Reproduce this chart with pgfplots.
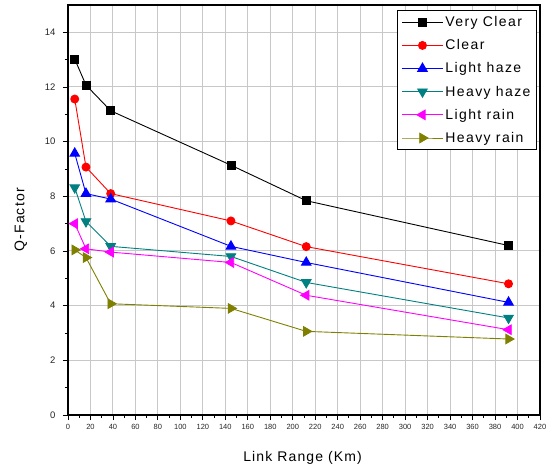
\documentclass[border=0pt]{standalone}
\usepackage{fontspec}
\setmainfont{Liberation Sans}
\usepackage{pgfplots}
\pgfplotsset{compat=1.18}
\definecolor{tealc}{RGB}{0,128,128}
\definecolor{olivec}{RGB}{128,128,0}
\definecolor{magc}{RGB}{255,0,255}
\definecolor{gridc}{RGB}{200,200,200}
\begin{document}
\begin{tikzpicture}
\begin{axis}[
  scale only axis,
  width=472pt, height=410pt,
  xmin=0, xmax=420, ymin=0, ymax=15,
  xtick={0,20,...,420},
  ytick={0,2,...,14},
  minor x tick num=1,
  minor y tick num=1,
  tick align=outside,
  tick pos=left,
  major tick length=5pt,
  minor tick length=3pt,
  grid=major,
  major grid style={gridc, line width=1pt},
  axis line style={line width=1.3pt},
  every tick/.style={black, line width=0.9pt},
  /pgf/number format/assume math mode=true,
  xticklabel style={font=\fontsize{7.5}{8}\selectfont, text=black!85, yshift=-1pt},
  yticklabel style={font=\fontsize{9.5}{10}\selectfont, text=black!85, xshift=-4pt},
  xlabel={\addfontfeature{LetterSpace=8}Link Range (Km)},
  ylabel={\addfontfeature{LetterSpace=8}Q-Factor},
  label style={font=\fontsize{14}{16}\selectfont},
  xlabel style={at={(axis description cs:0.497,-0.105)}, anchor=center},
  ylabel style={at={(axis description cs:-0.1,0.476)}, anchor=center, rotate=0},
  legend style={at={(1,1)}, anchor=north east, xshift=-3pt, yshift=-5pt, draw=black, line width=0.9pt,
    font=\fontsize{14}{16}\selectfont\addfontfeature{LetterSpace=10}, row sep=7.5pt, inner xsep=4pt, inner ysep=4pt,
    nodes={inner sep=2pt}},
  legend cell align=left,
  legend image code/.code={\draw[mark repeat=2,mark phase=2] plot coordinates {(0cm,0cm) (0.72cm,0cm) (1.44cm,0cm)};},
  every axis plot/.append style={line width=0.9pt, mark size=4pt},
  clip=false,
]
\addplot[black, mark=square*, mark size=4pt] coordinates {(6,13.02) (16,12.07) (38,11.13) (145,9.14) (212,7.84) (392,6.2)};
\addlegendentry{Very Clear}
\addplot[red, mark=*, mark size=4pt] coordinates {(6,11.56) (16,9.07) (38,8.1) (145,7.1) (212,6.16) (392,4.8)};
\addlegendentry{Clear}
\addplot[blue, mark=triangle*, mark size=5.5pt] coordinates {(6,9.57) (16,8.1) (38,7.9) (145,6.17) (212,5.58) (392,4.12)};
\addlegendentry{Light haze}
\addplot[tealc, mark=triangle*, mark options={rotate=180}, mark size=5.5pt] coordinates {(6,8.32) (16,7.08) (38,6.17) (145,5.8) (212,4.85) (392,3.55)};
\addlegendentry{Heavy haze}
\addplot[magc, mark=triangle*, mark options={rotate=90}, mark size=5.5pt] coordinates {(6,7.0) (16,6.08) (38,5.96) (145,5.58) (212,4.38) (392,3.12)};
\addlegendentry{Light rain}
\addplot[olivec, mark=triangle*, mark options={rotate=-90}, mark size=5.5pt] coordinates {(6,6.04) (16,5.76) (38,4.07) (145,3.9) (212,3.06) (392,2.78)};
\addlegendentry{Heavy rain}
\end{axis}
\path[use as bounding box] (-68pt,-57pt) rectangle (482pt,415pt);
\end{tikzpicture}
\end{document}
